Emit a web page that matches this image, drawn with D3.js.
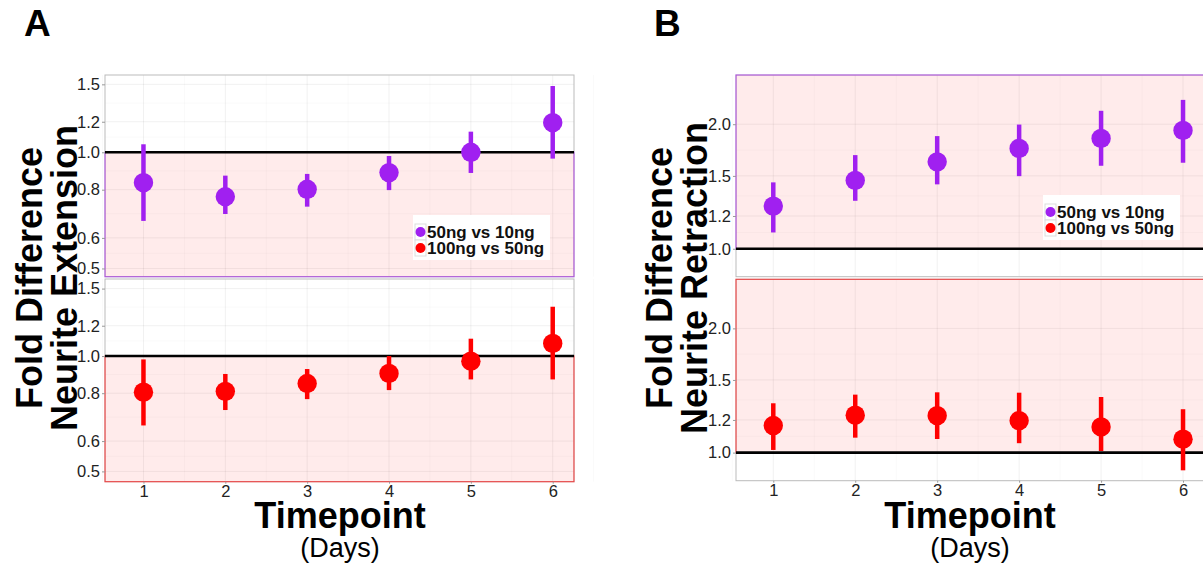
<!DOCTYPE html>
<html>
<head>
<meta charset="utf-8">
<script src="https://cdn.jsdelivr.net/npm/d3@7"></script>
<style>
  body { margin: 0; background: #fff; }
  svg { font-family: "Liberation Sans", Arial, Helvetica, sans-serif; display: block; }
  .tick text { fill: #222; font-size: 16.5px; }
  .tick line { stroke: #999; }
</style>
</head>
<body>
<svg width="1203" height="569"></svg>
<script>
// timepoints (days)
var days = [1, 2, 3, 4, 5, 6];
var seriesNames = ['50ng vs 10ng', '100ng vs 50ng'];
var seriesColors = ['#a020f0', '#ff0000'];

// neurite extension, fold difference (mean, lower, upper)
var extMean50 = [0.834, 0.767, 0.802, 0.886, 1.0, 1.193];
var extLo50 = [0.664, 0.692, 0.723, 0.798, 0.884, 0.963];
var extHi50 = [1.049, 0.870, 0.879, 0.978, 1.131, 1.485];
var extMean100 = [0.805, 0.809, 0.848, 0.901, 0.970, 1.079];
var extLo100 = [0.659, 0.723, 0.772, 0.815, 0.869, 0.869];
var extHi100 = [0.980, 0.898, 0.925, 1.0, 1.110, 1.345];

// neurite retraction, fold difference
var retMean50 = [1.268, 1.463, 1.622, 1.748, 1.848, 1.932];
var retLo50 = [1.095, 1.306, 1.431, 1.498, 1.587, 1.614];
var retHi50 = [1.447, 1.684, 1.872, 1.996, 2.155, 2.290];
var retMean100 = [1.163, 1.232, 1.229, 1.195, 1.154, 1.078];
var retLo100 = [1.015, 1.087, 1.079, 1.054, 1.009, 0.906];
var retHi100 = [1.317, 1.382, 1.400, 1.397, 1.364, 1.274];

var extTicks = [0.5, 0.6, 0.8, 1.0, 1.2, 1.5];
var retTicks = [1.0, 1.2, 1.5, 2.0];

var svg = d3.select('svg');
var fmt = d3.format('.1f');

// one small facet panel
var drawPanel = function (opt) {
  var x = opt.x, y = opt.y;
  var x0 = x.range()[0], x1 = x.range()[1];
  var yb = y.range()[0], yt = y.range()[1];
  var g = svg.append('g');

  // grid: minor then major
  var minorY = [];
  for (var i = 0; i < opt.ticks.length - 1; i++) {
    minorY.push(Math.sqrt(opt.ticks[i] * opt.ticks[i + 1]));
  }
  var minorX = [0.5, 1.5, 2.5, 3.5, 4.5, 5.5, 6.5];
  g.selectAll('.gmy').data(minorY).enter().append('line')
    .attr('x1', x0).attr('x2', x1)
    .attr('y1', function (d) { return y(d); }).attr('y2', function (d) { return y(d); })
    .attr('stroke', '#000').attr('stroke-opacity', 0.025);
  g.selectAll('.gmx').data(minorX).enter().append('line')
    .attr('x1', function (d) { return x(d); }).attr('x2', function (d) { return x(d); })
    .attr('y1', yt).attr('y2', yb)
    .attr('stroke', '#000').attr('stroke-opacity', 0.025);
  g.selectAll('.gy').data(opt.ticks).enter().append('line')
    .attr('x1', x0).attr('x2', x1)
    .attr('y1', function (d) { return y(d); }).attr('y2', function (d) { return y(d); })
    .attr('stroke', '#000').attr('stroke-opacity', 0.06);
  g.selectAll('.gx').data(days).enter().append('line')
    .attr('x1', function (d) { return x(d); }).attr('x2', function (d) { return x(d); })
    .attr('y1', yt).attr('y2', yb)
    .attr('stroke', '#000').attr('stroke-opacity', 0.06);

  // panel border
  g.append('rect')
    .attr('x', x0).attr('y', yt).attr('width', x1 - x0).attr('height', yb - yt)
    .attr('fill', 'none').attr('stroke', '#bbb').attr('stroke-width', 1);

  // shaded region (below 1 for extension, above 1 for retraction)
  var ya = opt.shadeBelow ? y(1) : yt;
  var yz = opt.shadeBelow ? yb : y(1);
  g.append('rect')
    .attr('x', x0).attr('y', ya).attr('width', x1 - x0).attr('height', yz - ya)
    .attr('fill', '#ff0000').attr('fill-opacity', 0.08)
    .attr('stroke', opt.color).attr('stroke-opacity', 0.6).attr('stroke-width', 1.2);

  // reference line at 1
  g.append('line')
    .attr('x1', x0).attr('x2', x1).attr('y1', y(1)).attr('y2', y(1))
    .attr('stroke', '#000').attr('stroke-width', 2.6);

  var pts = days.map(function (d, i) {
    return { day: d, mean: opt.mean[i], lo: opt.lo[i], hi: opt.hi[i] };
  });
  g.selectAll('.err').data(pts).enter().append('line')
    .attr('x1', function (d) { return x(d.day); }).attr('x2', function (d) { return x(d.day); })
    .attr('y1', function (d) { return y(d.lo); }).attr('y2', function (d) { return y(d.hi); })
    .attr('stroke', opt.color).attr('stroke-width', 4.5);
  g.selectAll('.pt').data(pts).enter().append('circle')
    .attr('cx', function (d) { return x(d.day); })
    .attr('cy', function (d) { return y(d.mean); })
    .attr('r', 9.7)
    .attr('fill', opt.color);

  // y axis
  var ax = svg.append('g')
    .attr('transform', 'translate(' + x0 + ',0)')
    .call(d3.axisLeft(y).tickValues(opt.ticks).tickFormat(fmt).tickSize(3).tickPadding(2));
  ax.select('.domain').remove();

  if (opt.xAxis) {
    var bx = svg.append('g')
      .attr('transform', 'translate(0,' + yb + ')')
      .call(d3.axisBottom(x).tickValues(days).tickFormat(d3.format('d')).tickSize(2).tickPadding(2));
    bx.select('.domain').remove();
  }
};

var legend = function (lx, ly) {
  var g = svg.append('g').attr('transform', 'translate(' + lx + ',' + ly + ')');
  g.append('rect').attr('width', 137).attr('height', 45).attr('fill', '#fff');
  seriesNames.forEach(function (name, i) {
    var cy = 17 + i * 16;
    g.append('rect').attr('x', 2).attr('y', cy - 8).attr('width', 11).attr('height', 16)
      .attr('fill', '#fff').attr('stroke', '#ddd');
    g.append('circle').attr('cx', 7.5).attr('cy', cy).attr('r', 5).attr('fill', seriesColors[i]);
    g.append('text').attr('x', 14).attr('y', cy + 6)
      .attr('font-size', '17px').attr('font-weight', 'bold').attr('fill', '#111')
      .text(name);
  });
};

// Panel A: extension
var xA = d3.scaleLinear().domain([0.53, 6.26]).range([105, 574]);
drawPanel({ x: xA, y: d3.scaleLog().domain([0.476, 1.586]).range([276.7, 75]),
  ticks: extTicks, mean: extMean50, lo: extLo50, hi: extHi50,
  color: seriesColors[0], shadeBelow: true, xAxis: false });
drawPanel({ x: xA, y: d3.scaleLog().domain([0.47, 1.589]).range([481.7, 279]),
  ticks: extTicks, mean: extMean100, lo: extLo100, hi: extHi100,
  color: seriesColors[1], shadeBelow: true, xAxis: true });
legend(413, 215);

// Panel B: retraction
var xB = d3.scaleLinear().domain([0.545, 6.5]).range([736, 1224]);
drawPanel({ x: xB, y: d3.scaleLog().domain([0.856, 2.63]).range([276.7, 75]),
  ticks: retTicks, mean: retMean50, lo: retLo50, hi: retHi50,
  color: seriesColors[0], shadeBelow: false, xAxis: false });
drawPanel({ x: xB, y: d3.scaleLog().domain([0.855, 2.63]).range([480.7, 279.3]),
  ticks: retTicks, mean: retMean100, lo: retLo100, hi: retHi100,
  color: seriesColors[1], shadeBelow: false, xAxis: true });
legend(1043, 195);

// titles
var titles = [
  { letter: 'A', lx: 24, cx: 340, l1x: 42, l2x: 77, second: 'Neurite Extension' },
  { letter: 'B', lx: 654, cx: 970, l1x: 672, l2x: 707, second: 'Neurite Retraction' }
];
titles.forEach(function (t) {
  svg.append('text').attr('x', t.lx).attr('y', 36)
    .attr('font-size', '37px').attr('font-weight', 'bold').text(t.letter);
  svg.append('text').attr('x', t.cx).attr('y', 528).attr('text-anchor', 'middle')
    .attr('font-size', '36px').attr('font-weight', 'bold').text('Timepoint');
  svg.append('text').attr('x', t.cx).attr('y', 557).attr('text-anchor', 'middle')
    .attr('font-size', '27px').text('(Days)');
  svg.append('text').attr('transform', 'translate(' + t.l1x + ',278) rotate(-90)')
    .attr('text-anchor', 'middle').attr('font-size', '36px').attr('font-weight', 'bold')
    .text('Fold Difference');
  svg.append('text').attr('transform', 'translate(' + t.l2x + ',278) rotate(-90)')
    .attr('text-anchor', 'middle').attr('font-size', '36px').attr('font-weight', 'bold')
    .text(t.second);
});
</script>
</body>
</html>
